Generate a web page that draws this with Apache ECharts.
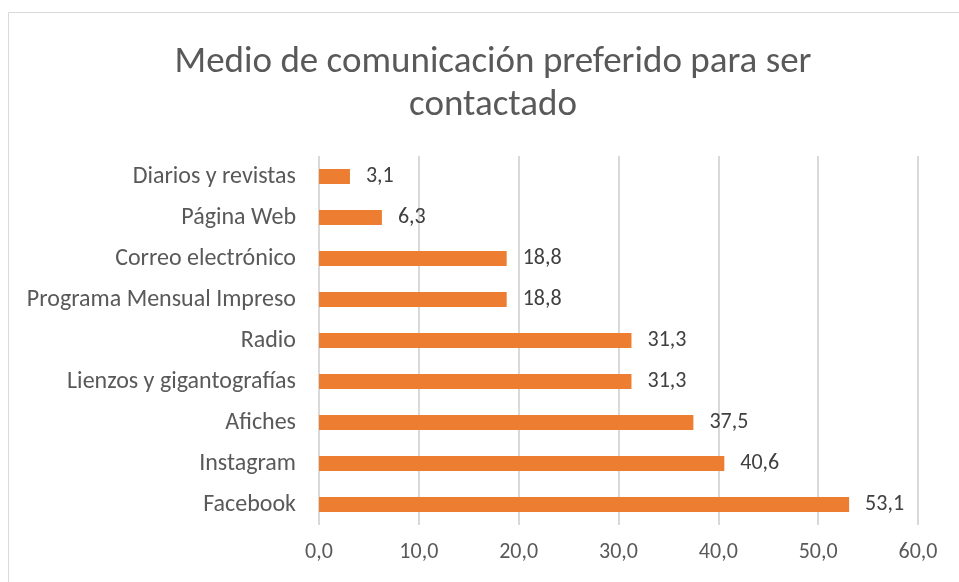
<!DOCTYPE html>
<html>
<head>
<meta charset="utf-8">
<script src="https://cdn.jsdelivr.net/npm/echarts@6/dist/echarts.min.js"></script>
<style>
  html, body { margin: 0; padding: 0; background: #fff; }
  #chart { width: 959px; height: 582px; }
</style>
</head>
<body>
<div id="chart"></div>
<script>
// categorías de abajo hacia arriba (eje Y invertido por ECharts)
const categories = [
  'Facebook',
  'Instagram',
  'Afiches',
  'Lienzos y gigantografías',
  'Radio',
  'Programa Mensual Impreso',
  'Correo electrónico',
  'Página Web',
  'Diarios y revistas',
]
const values = [53.1, 40.6, 37.5, 31.3, 31.3, 18.8, 18.8, 6.3, 3.1]
const xTicks = [0, 10, 20, 30, 40, 50, 60]

const fontFamily = 'Carlito, Calibri, "Open Sans", "Liberation Sans", sans-serif'
const fmt = v => v.toFixed(1).replace('.', ',')

const chart = echarts.init(document.getElementById('chart'))
chart.setOption({
  backgroundColor: '#fff',
  animation: false,
  graphic: [{
    type: 'rect',
    shape: { x: 8.5, y: 12.5, width: 960, height: 580 },
    style: { fill: 'none', stroke: '#d9d9d9', lineWidth: 1 },
    silent: true,
  }],
  title: {
    text: 'Medio de comunicación preferido para ser\ncontactado',
    left: 488,
    textAlign: 'center',
    top: 36,
    textStyle: {
      color: '#595959', fontSize: 37, fontWeight: 'normal', fontFamily,
      lineHeight: 43,
    },
  },
  grid: { left: 319, right: 41, top: 156, bottom: 57, containLabel: false },
  xAxis: {
    type: 'value',
    min: xTicks[0],
    max: xTicks[xTicks.length - 1],
    interval: 10,
    axisLine: { show: false },
    axisTick: { show: false },
    axisLabel: {
      color: '#595959', fontSize: 22, fontFamily, margin: 16,
      formatter: fmt,
    },
    splitLine: { lineStyle: { color: '#d9d9d9', width: 2 } },
  },
  yAxis: {
    type: 'category',
    data: categories,
    axisLine: { show: false },
    axisTick: { show: false },
    axisLabel: { color: '#595959', fontSize: 24, fontFamily, margin: 23 },
  },
  series: [{
    type: 'bar',
    data: values,
    barWidth: 15,
    itemStyle: { color: '#ed7d31' },
    label: {
      show: true,
      position: 'right',
      distance: 16,
      color: '#404040',
      fontSize: 22,
      fontFamily,
      formatter: p => fmt(p.value),
    },
  }],
})
</script>
</body>
</html>
